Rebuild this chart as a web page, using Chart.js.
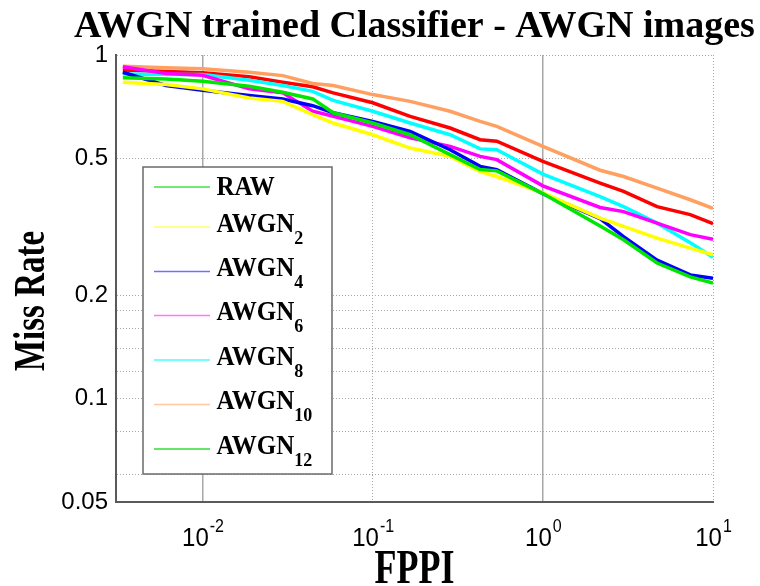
<!DOCTYPE html>
<html>
<head>
<meta charset="utf-8">
<script src="https://cdn.jsdelivr.net/npm/chart.js@4.4.1/dist/chart.umd.min.js"></script>
<style>
  html, body { margin: 0; padding: 0; background: #fff; }
</style>
</head>
<body>
<canvas id="missRateChart" width="760" height="586"></canvas>
<script>
// FPPI sample points shared by every curve
const fppi = [0.0034, 0.0061, 0.01, 0.0188, 0.0296, 0.0444, 0.0586, 0.1, 0.166, 0.285, 0.428, 0.536, 1, 2.17, 2.98, 4.69, 7.35, 10];

// miss rate per classifier input
const rawMiss    = [0.858, 0.852, 0.839, 0.811, 0.779, 0.745, 0.679, 0.634, 0.586, 0.513, 0.464, 0.460, 0.395, 0.318, 0.290, 0.248, 0.226, 0.217];
const awgn2Miss  = [0.833, 0.820, 0.797, 0.750, 0.733, 0.671, 0.634, 0.586, 0.536, 0.507, 0.458, 0.443, 0.397, 0.335, 0.317, 0.293, 0.274, 0.262];
const awgn4Miss  = [0.891, 0.815, 0.790, 0.762, 0.745, 0.712, 0.679, 0.641, 0.599, 0.530, 0.474, 0.464, 0.395, 0.334, 0.296, 0.253, 0.229, 0.224];
const awgn6Miss  = [0.924, 0.884, 0.873, 0.797, 0.776, 0.686, 0.663, 0.620, 0.574, 0.542, 0.507, 0.496, 0.416, 0.360, 0.350, 0.324, 0.300, 0.291];
const awgn8Miss  = [0.880, 0.877, 0.877, 0.844, 0.815, 0.784, 0.738, 0.686, 0.634, 0.586, 0.533, 0.530, 0.450, 0.387, 0.362, 0.324, 0.284, 0.258];
const awgn10Miss = [0.927, 0.918, 0.912, 0.891, 0.871, 0.826, 0.815, 0.767, 0.733, 0.686, 0.641, 0.620, 0.542, 0.462, 0.443, 0.410, 0.379, 0.358];
const awgn12Miss = [0.905, 0.895, 0.888, 0.864, 0.833, 0.808, 0.776, 0.726, 0.663, 0.613, 0.567, 0.561, 0.490, 0.424, 0.401, 0.362, 0.343, 0.323];

const seriesNames  = ['RAW', 'AWGN2', 'AWGN4', 'AWGN6', 'AWGN8', 'AWGN10', 'AWGN12'];
const seriesValues = [rawMiss, awgn2Miss, awgn4Miss, awgn6Miss, awgn8Miss, awgn10Miss, awgn12Miss];
const seriesColors = ['#00e600', '#ffff00', '#0000ff', '#ff00ff', '#00ffff', '#ffa060', '#ff0000'];

// legend as printed in the figure (base text + subscript)
const legendBase   = ['RAW', 'AWGN', 'AWGN', 'AWGN', 'AWGN', 'AWGN', 'AWGN'];
const legendSub    = ['', '2', '4', '6', '8', '10', '12'];
const legendColors = ['#44e044', '#ffff66', '#7070ff', '#ff77ff', '#44ffff', '#ffc8a0', '#33dd33'];

// axis ticks
const xDottedTicks = [0.1, 10];
const xSolidTicks  = [0.01, 1];
const xTickLabels  = [0.01, 0.1, 1, 10];
const yGridTicks   = [0.05, 0.06, 0.08, 0.1, 0.12, 0.14, 0.16, 0.18, 0.2, 0.5, 1];
const yTickLabels  = [0.05, 0.1, 0.2, 0.5, 1];

const X_MIN = 0.0031, X_MAX = 10;
const serif = '"Liberation Serif", "Times New Roman", serif';
const sans = '"Liberation Sans", Arial, sans-serif';

// text drawn taller than wide, like the stretched original figure
function stretchedText(ctx, text, x, y, sy) {
    ctx.save();
    ctx.translate(x, y);
    ctx.scale(1, sy);
    ctx.fillText(text, 0, 0);
    ctx.restore();
}

const figureText = {
    id: 'figureText',
    afterDraw(chart) {
        const ctx = chart.ctx;
        const ca = chart.chartArea;
        const xs = chart.scales.x;
        const cx = (ca.left + ca.right) / 2;

        ctx.save();
        ctx.fillStyle = '#000';

        // title
        ctx.font = 'bold 38px ' + serif;
        ctx.textAlign = 'center';
        ctx.textBaseline = 'alphabetic';
        ctx.fillText('AWGN trained Classifier - AWGN images', cx, 37);

        // x title
        ctx.font = 'bold 36px ' + serif;
        stretchedText(ctx, 'FPPI', cx, 583, 1.35);

        // y title
        ctx.save();
        ctx.translate(44, 301);
        ctx.rotate(-Math.PI / 2);
        ctx.font = 'bold 33px ' + serif;
        stretchedText(ctx, 'Miss Rate', 0, 0, 1.35);
        ctx.restore();

        // x tick labels 10^n
        xTickLabels.forEach(v => {
            const px = xs.getPixelForValue(v);
            const exp = String(Math.round(Math.log10(v)));
            ctx.font = '24px ' + sans;
            const bw = ctx.measureText('10').width;
            ctx.font = '16px ' + sans;
            const ew = ctx.measureText(exp).width;
            const start = px - (bw + ew) / 2;
            ctx.textAlign = 'left';
            ctx.font = '24px ' + sans;
            stretchedText(ctx, '10', start, 546, 1.1);
            ctx.font = '16px ' + sans;
            stretchedText(ctx, exp, start + bw + 1, 532, 1.1);
        });

        // legend box
        const bx = ca.left + 27, by = ca.top + 112, bw = 189, bh = 307;
        const rowY = [20, 60, 104.5, 148.5, 193, 237.5, 282];
        ctx.fillStyle = '#fff';
        ctx.fillRect(bx, by, bw, bh);
        ctx.strokeStyle = '#6a6a6a';
        ctx.lineWidth = 1.5;
        ctx.strokeRect(bx, by, bw, bh);
        ctx.textAlign = 'left';
        legendBase.forEach((name, i) => {
            const ly = by + rowY[i];
            ctx.strokeStyle = legendColors[i];
            ctx.lineWidth = 1.6;
            ctx.beginPath();
            ctx.moveTo(bx + 11, ly);
            ctx.lineTo(bx + 67, ly);
            ctx.stroke();
            ctx.fillStyle = '#000';
            ctx.font = 'bold 25px ' + serif;
            const base = legendSub[i] ? ly + 4.5 : ly + 8;
            stretchedText(ctx, name, bx + 73.5, base, 1.08);
            if (legendSub[i]) {
                const w = ctx.measureText(name).width;
                ctx.font = 'bold 18px ' + serif;
                stretchedText(ctx, legendSub[i], bx + 73.5 + w, base + 12, 1.08);
            }
        });
        ctx.restore();
    }
};

const datasets = seriesValues.map((vals, i) => ({
    label: seriesNames[i],
    data: fppi.map((f, j) => ({ x: f, y: vals[j] })),
    borderColor: seriesColors[i],
    backgroundColor: seriesColors[i],
    borderWidth: 3.5,
    pointRadius: 0,
    tension: 0,
    fill: false,
    xAxisID: 'x',
    yAxisID: 'y'
}));

new Chart(document.getElementById('missRateChart').getContext('2d'), {
    type: 'line',
    data: { datasets: datasets },
    options: {
        responsive: false,
        animation: false,
        layout: { padding: { left: 0, top: 55, right: 47, bottom: 0 } },
        plugins: {
            legend: { display: false },
            tooltip: { enabled: false },
            title: { display: false }
        },
        scales: {
            x: {
                type: 'logarithmic',
                axis: 'x',
                position: 'bottom',
                min: X_MIN,
                max: X_MAX,
                afterBuildTicks: s => { s.ticks = xDottedTicks.map(v => ({ value: v })); },
                afterFit: s => { s.height = 84; },
                ticks: { display: false },
                grid: { color: '#a8a8a8', lineWidth: 1, drawTicks: false },
                border: { display: true, color: '#5a5a5a', width: 2, dash: [1, 2] }
            },
            x2: {
                type: 'logarithmic',
                axis: 'x',
                position: 'bottom',
                min: X_MIN,
                max: X_MAX,
                afterBuildTicks: s => { s.ticks = xSolidTicks.map(v => ({ value: v })); },
                afterFit: s => { s.height = 0; },
                ticks: { display: false },
                grid: { color: '#a8a8a8', lineWidth: 1.5, drawTicks: false },
                border: { display: false }
            },
            y: {
                type: 'logarithmic',
                min: 0.05,
                max: 1,
                afterBuildTicks: s => { s.ticks = yGridTicks.map(v => ({ value: v })); },
                afterFit: s => { s.width = 116; },
                ticks: {
                    autoSkip: false,
                    padding: 8,
                    color: '#000',
                    font: { family: sans, size: 24 },
                    callback: v => yTickLabels.includes(v) ? String(v) : ''
                },
                grid: { color: '#a8a8a8', lineWidth: 1, drawTicks: false },
                border: { display: true, color: '#5a5a5a', width: 2, dash: [1, 2] }
            }
        }
    },
    plugins: [figureText]
});
</script>
</body>
</html>
